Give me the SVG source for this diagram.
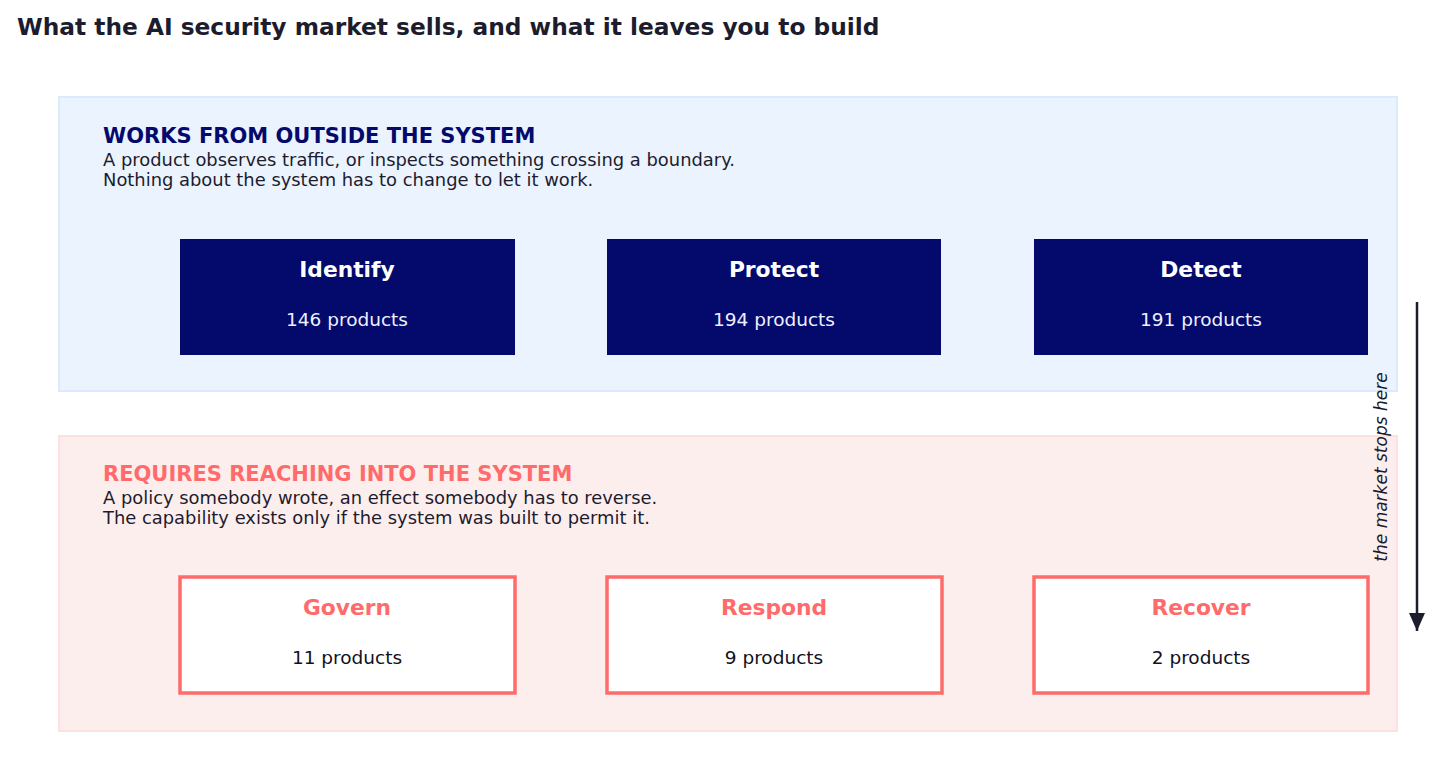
<svg xmlns="http://www.w3.org/2000/svg" width="1456" height="784" viewBox="0 0 1456 784">
<defs>
<style>
text{font-family:"DejaVu Sans","Noto Sans",sans-serif}
.title{font-size:23.3px;font-weight:bold;fill:#1c1c2e}
.sechead{font-size:21px;font-weight:bold}
.sub{font-size:17.9px;fill:#1c1c2e}
.bt{font-size:21.8px;font-weight:bold;text-anchor:middle}
.bc{font-size:18.5px;text-anchor:middle}
.navy{fill:#030a6c}
.red{fill:#ff6b6b}
.outer{fill:#ffffff;stroke:#ff6b6b;stroke-width:3.5}
</style>
<marker id="ah" markerWidth="18" markerHeight="16" refX="18" refY="8" orient="auto" markerUnits="userSpaceOnUse" viewBox="0 0 18 16">
<path d="M0,0 L18,8 L0,16 Z" fill="#1c1c2e"/>
</marker>
</defs>
<rect width="1456" height="784" fill="#ffffff"/>
<text class="title" x="17" y="35">What the AI security market sells, and what it leaves you to build</text>

<g id="panel-outside">
<rect x="59" y="97" width="1338" height="294" fill="#ebf3fe" stroke="#dbeafd" stroke-width="2"/>
<text class="sechead navy" x="103" y="143">WORKS FROM OUTSIDE THE SYSTEM</text>
<text class="sub" x="103" y="166">A product observes traffic, or inspects something crossing a boundary.</text>
<text class="sub" x="103" y="186">Nothing about the system has to change to let it work.</text>
</g>
<g id="panel-inside">
<rect x="59" y="436" width="1338" height="295" fill="#fdeeee" stroke="#fde0e0" stroke-width="2"/>
<text class="sechead red" x="103" y="481">REQUIRES REACHING INTO THE SYSTEM</text>
<text class="sub" x="103" y="504">A policy somebody wrote, an effect somebody has to reverse.</text>
<text class="sub" x="103" y="524">The capability exists only if the system was built to permit it.</text>
</g>

<g id="identify">
<rect x="180" y="239" width="335" height="116" class="navy"/>
<text class="bt" x="347" y="277" fill="#ffffff">Identify</text>
<text class="bc" x="347" y="326" fill="#eef0ff">146 products</text>
</g>
<g id="protect">
<rect x="607" y="239" width="334" height="116" class="navy"/>
<text class="bt" x="774" y="277" fill="#ffffff">Protect</text>
<text class="bc" x="774" y="326" fill="#eef0ff">194 products</text>
</g>
<g id="detect">
<rect x="1034" y="239" width="334" height="116" class="navy"/>
<text class="bt" x="1201" y="277" fill="#ffffff">Detect</text>
<text class="bc" x="1201" y="326" fill="#eef0ff">191 products</text>
</g>

<g id="govern">
<rect x="180" y="577" width="335" height="116" class="outer"/>
<text class="bt red" x="347" y="615">Govern</text>
<text class="bc" x="347" y="664" fill="#111122">11 products</text>
</g>
<g id="respond">
<rect x="607" y="577" width="335" height="116" class="outer"/>
<text class="bt red" x="774" y="615">Respond</text>
<text class="bc" x="774" y="664" fill="#111122">9 products</text>
</g>
<g id="recover">
<rect x="1034" y="577" width="334" height="116" class="outer"/>
<text class="bt red" x="1201" y="615">Recover</text>
<text class="bc" x="1201" y="664" fill="#111122">2 products</text>
</g>

<g id="connectors">
<line x1="1417" y1="302" x2="1417" y2="631" stroke="#1c1c2e" stroke-width="2.5" marker-end="url(#ah)"/>
<text x="1387" y="467" font-size="17" font-style="italic" fill="#1c1c2e" text-anchor="middle" transform="rotate(-90 1387 467)">the market stops here</text>
</g>
</svg>
